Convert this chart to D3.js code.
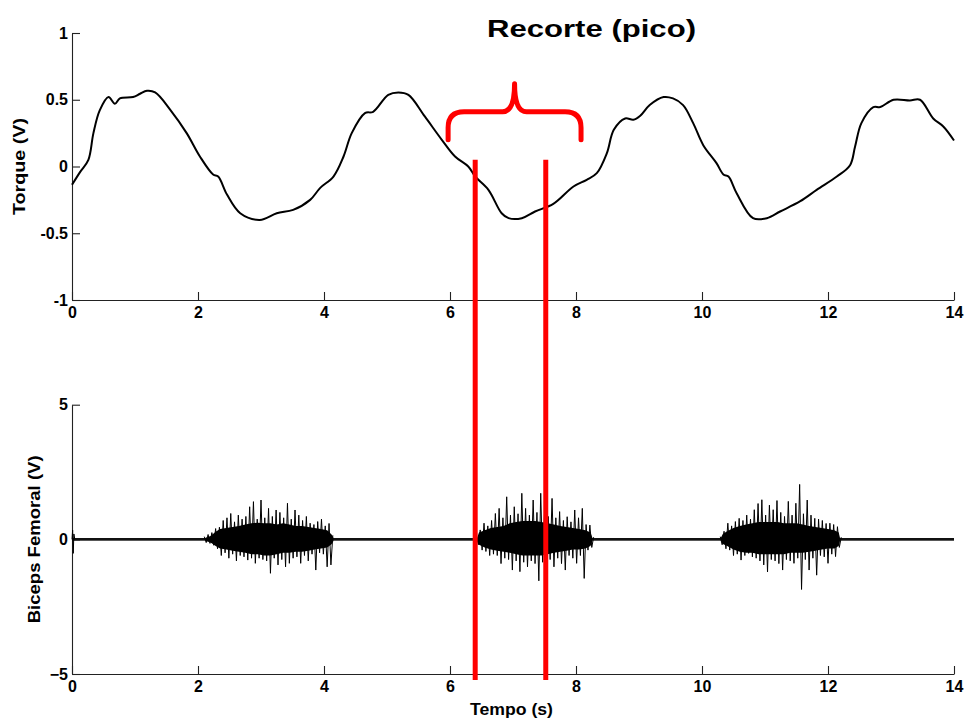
<!DOCTYPE html>
<html>
<head>
<meta charset="utf-8">
<script src="https://cdn.jsdelivr.net/npm/d3@7"></script>
<style>
  body { margin: 0; background: #fff; }
  svg { display: block; }
  text { font-family: "Liberation Sans", Arial, Helvetica, sans-serif; font-weight: bold; fill: #000; }
</style>
</head>
<body>
<svg id="chart" width="966" height="719"></svg>
<script>
// ---- Torque signal (V) over time (s) ----
const torqueT = [0, 0.13, 0.26, 0.34, 0.44, 0.58, 0.68, 0.76, 0.97, 1.08, 1.19, 1.32, 1.56, 1.82, 2.03, 2.24, 2.32, 2.46, 2.67, 2.98, 3.25, 3.51, 3.78, 3.94, 4.15, 4.31, 4.44, 4.65, 4.78, 5.02, 5.18, 5.34, 5.60, 5.87, 6.08, 6.29, 6.40, 6.61, 6.82, 6.93, 7.14, 7.35, 7.64, 7.96, 8.17, 8.33, 8.49, 8.60, 8.78, 8.91, 9.02, 9.17, 9.39, 9.54, 9.70, 9.86, 10.02, 10.23, 10.34, 10.42, 10.55, 10.81, 11.03, 11.24, 11.56, 11.82, 12.14, 12.35, 12.43, 12.53, 12.72, 12.83, 13.04, 13.30, 13.46, 13.67, 13.83, 14.0];
const torqueV = [-0.137, -0.04, 0.05, 0.25, 0.42, 0.52, 0.47, 0.51, 0.52, 0.545, 0.567, 0.555, 0.425, 0.25, 0.075, -0.06, -0.075, -0.21, -0.35, -0.40, -0.35, -0.325, -0.25, -0.16, -0.075, 0.075, 0.25, 0.40, 0.41, 0.537, 0.555, 0.537, 0.375, 0.2, 0.075, 0.0, -0.075, -0.175, -0.35, -0.387, -0.387, -0.337, -0.28, -0.15, -0.10, -0.05, 0.10, 0.275, 0.36, 0.35, 0.38, 0.46, 0.52, 0.51, 0.46, 0.325, 0.16, 0.025, -0.06, -0.075, -0.20, -0.387, -0.387, -0.337, -0.26, -0.175, -0.075, 0.01, 0.15, 0.325, 0.445, 0.445, 0.50, 0.495, 0.50, 0.36, 0.30, 0.195];

// ---- Biceps femoris EMG (V) ----
// resting band (half-width) between contractions
const emgRestBand = 0.05;
// onset artefact at the start of the record
const emgOnsetT = [0.0, 0.01, 0.02, 0.03, 0.045];
const emgOnsetV = [0.0, 0.34, -0.52, 0.2, 0.0];
// dense core of each contraction burst (upper / lower edge)
const emgCoreT  = [2.12, 2.20, 2.28, 2.35, 2.45, 2.55, 2.65, 2.75, 2.85, 2.95, 3.05, 3.15, 3.25, 3.35, 3.45, 3.55, 3.65, 3.75, 3.85, 3.95, 4.05, 4.12, 4.15,
                   6.43, 6.46, 6.55, 6.65, 6.75, 6.85, 6.95, 7.05, 7.15, 7.25, 7.35, 7.45, 7.55, 7.65, 7.75, 7.85, 7.95, 8.05, 8.15, 8.23, 8.26,
                   10.30, 10.33, 10.40, 10.50, 10.60, 10.70, 10.80, 10.90, 11.00, 11.10, 11.20, 11.30, 11.40, 11.50, 11.60, 11.70, 11.80, 11.90, 12.00, 12.10, 12.17, 12.19];
const emgCoreHi = [0.06, 0.12, 0.28, 0.38, 0.42, 0.46, 0.5, 0.55, 0.6, 0.62, 0.6, 0.6, 0.55, 0.6, 0.55, 0.5, 0.5, 0.46, 0.42, 0.38, 0.34, 0.18, 0.06,
                   0.06, 0.25, 0.34, 0.42, 0.46, 0.5, 0.6, 0.64, 0.68, 0.68, 0.68, 0.64, 0.6, 0.55, 0.5, 0.46, 0.42, 0.38, 0.34, 0.25, 0.06,
                   0.06, 0.2, 0.3, 0.42, 0.5, 0.55, 0.6, 0.64, 0.64, 0.64, 0.64, 0.6, 0.6, 0.6, 0.55, 0.5, 0.46, 0.42, 0.38, 0.34, 0.25, 0.06];
const emgCoreLo = [-0.06, -0.12, -0.25, -0.34, -0.38, -0.42, -0.46, -0.5, -0.55, -0.55, -0.6, -0.6, -0.55, -0.5, -0.5, -0.46, -0.46, -0.42, -0.38, -0.34, -0.3, -0.18, -0.06,
                   -0.06, -0.2, -0.3, -0.38, -0.42, -0.46, -0.5, -0.55, -0.6, -0.6, -0.6, -0.6, -0.55, -0.5, -0.46, -0.42, -0.38, -0.38, -0.34, -0.25, -0.06,
                   -0.06, -0.17, -0.25, -0.38, -0.46, -0.5, -0.5, -0.55, -0.55, -0.55, -0.55, -0.55, -0.5, -0.5, -0.5, -0.46, -0.42, -0.38, -0.34, -0.34, -0.25, -0.06];
// contraction bursts: alternating peaks sampled every emgStep seconds
const emgStep = 0.03;
const emgBurstStart = [2.10, 6.42, 10.29];
const emgBurst1 = [0.10, -0.12, 0.18, -0.15, 0.25, -0.22, 0.40, -0.35, 0.45, -0.60, 0.70, -0.50, 0.80, -0.70, 0.96, -0.55, 0.65, -0.80, 0.90, -0.60,
                   0.75, -0.65, 0.85, -0.77, 1.21, -0.70, 1.40, -0.89, 0.75, -0.70, 1.46, -0.75, 0.80, -0.80, 1.15, -1.26, 0.85, -0.70, 1.09, -0.95,
                   1.00, -0.75, 0.80, -1.02, 1.34, -0.89, 0.75, -0.70, 1.09, -0.65, 0.90, -0.89, 0.70, -0.60, 0.85, -0.80, 0.60, -0.55, 0.55, -1.14,
                   0.66, -0.50, 0.75, -0.55, 0.50, -1.02, 0.59, -0.95, 0.15];
const emgBurst2 = [0.10, -0.20, 0.35, -0.40, 0.60, -0.45, 0.50, -0.60, 0.70, -0.55, 0.96, -0.60, 1.15, -0.90, 0.80, -0.70, 1.58, -0.75, 0.90, -1.14,
                   1.21, -0.80, 0.95, -1.20, 1.71, -0.85, 1.15, -1.02, 0.90, -0.80, 1.46, -0.90, 1.00, -1.54, 1.71, -0.85, 0.96, -1.39, 0.85, -0.75,
                   1.52, -1.02, 0.80, -0.70, 1.03, -0.90, 0.70, -1.14, 0.84, -0.60, 0.65, -0.70, 1.09, -0.89, 0.80, -0.60, 1.15, -1.45, 0.55, -0.40,
                   0.53, -0.30, 0.08];
const emgBurst3 = [0.10, -0.20, 0.30, -0.35, 0.60, -0.40, 0.50, -0.60, 0.66, -0.55, 0.78, -0.77, 0.70, -0.60, 0.90, -0.52, 0.75, -0.65, 1.10, -0.70,
                   1.33, -0.80, 1.47, -0.95, 0.90, -1.21, 1.27, -0.75, 1.10, -0.80, 1.44, -0.90, 1.00, -1.14, 0.85, -0.75, 1.41, -0.80, 0.90, -0.89,
                   1.34, -0.70, 2.04, -1.86, 0.95, -0.75, 1.46, -1.14, 0.90, -0.70, 0.78, -1.33, 0.75, -0.60, 0.70, -0.65, 0.59, -0.89, 0.60, -0.55,
                   0.55, -0.64, 0.47, -0.30, 0.08];

// ---- Axis ticks ----
const timeTicks = [0, 2, 4, 6, 8, 10, 12, 14];
const torqueTicks = [-1, -0.5, 0, 0.5, 1];
const emgTicks = [-5, 0, 5];

// ---- Cut window (peak segment) ----
const cutWindow = [6.40, 7.52];
const braceSpan = [5.97, 8.08];

const svg = d3.select("#chart");

const x = d3.scaleLinear().domain([0, 14]).range([72, 954]);
const yTop = d3.scaleLinear().domain([-1, 1]).range([300, 33]);
const yBot = d3.scaleLinear().domain([-5, 5]).range([674, 404.7]);

function drawAxes(yScale, ticks, fmt) {
  const gy = svg.append("g").attr("transform", `translate(${x(0)},0)`)
    .call(d3.axisLeft(yScale).tickValues(ticks).tickSizeInner(-8).tickSizeOuter(0).tickPadding(4).tickFormat(fmt));
  const gx = svg.append("g").attr("transform", `translate(0,${yScale.range()[0]})`)
    .call(d3.axisBottom(x).tickValues(timeTicks).tickSizeInner(-8).tickSizeOuter(0).tickFormat(d3.format("d")));
  [gy, gx].forEach(g => {
    g.selectAll("path.domain").attr("stroke", "#222").attr("stroke-width", 1.1);
    g.selectAll(".tick line").attr("stroke", "#222").attr("stroke-width", 1.1);
    g.selectAll("text").attr("font-size", 16).attr("font-family", null).attr("fill", "#000");
  });
  gx.selectAll("text").attr("y", 18).attr("dy", 0);
}

drawAxes(yTop, torqueTicks, d => String(d));
drawAxes(yBot, emgTicks, d3.format("d"));

// Torque trace
const torqueData = torqueT.map((t, i) => [t, torqueV[i]]);
svg.append("path")
  .datum(torqueData)
  .attr("fill", "none")
  .attr("stroke", "#000")
  .attr("stroke-width", 2)
  .attr("stroke-linejoin", "round")
  .attr("d", d3.line().curve(d3.curveCatmullRom.alpha(0.5)).x(d => x(d[0])).y(d => yTop(d[1])));

// EMG resting band
svg.append("rect")
  .attr("x", x(0)).attr("width", x(14) - x(0))
  .attr("y", yBot(emgRestBand)).attr("height", yBot(-emgRestBand) - yBot(emgRestBand))
  .attr("fill", "#111");

// EMG burst cores
const coreData = emgCoreT.map((t, i) => [t, emgCoreHi[i], emgCoreLo[i]]);
const coreGroups = [coreData.filter(d => d[0] < 5), coreData.filter(d => d[0] > 5 && d[0] < 9), coreData.filter(d => d[0] > 9)];
svg.append("g").selectAll("path").data(coreGroups).join("path")
  .attr("fill", "#000")
  .attr("d", d3.area().x(d => x(d[0])).y0(d => yBot(d[2])).y1(d => yBot(d[1])));

// EMG onset artefact and burst peaks
const emgLine = d3.line().x(d => x(d[0])).y(d => yBot(d[1]));
const emgSeries = [emgOnsetT.map((t, i) => [t, emgOnsetV[i]])];
[emgBurst1, emgBurst2, emgBurst3].forEach((vals, b) => {
  emgSeries.push(vals.map((v, i) => [emgBurstStart[b] + i * emgStep, v]));
});
svg.append("g").selectAll("path").data(emgSeries).join("path")
  .attr("fill", "none")
  .attr("stroke", "#000")
  .attr("stroke-width", 1)
  .attr("stroke-linejoin", "miter")
  .attr("d", emgLine);

// Axis titles
function label(sel, len) {
  return sel.attr("textLength", len).attr("lengthAdjust", "spacingAndGlyphs");
}
label(svg.append("text").attr("transform", `translate(25,${yTop(0)}) rotate(-90)`)
  .attr("text-anchor", "middle").attr("font-size", 16).text("Torque (V)"), 97);
label(svg.append("text").attr("transform", `translate(40,${yBot(0)}) rotate(-90)`)
  .attr("text-anchor", "middle").attr("font-size", 16).text("Biceps Femoral (V)"), 168);
label(svg.append("text").attr("x", 511.5).attr("y", 715)
  .attr("text-anchor", "middle").attr("font-size", 16).text("Tempo (s)"), 83);

// Title
label(svg.append("text").attr("x", 591.5).attr("y", 37)
  .attr("text-anchor", "middle").attr("font-size", 24).text("Recorte (pico)"), 209);

// Cut boundaries
svg.append("g").selectAll("line").data(cutWindow).join("line")
  .attr("x1", d => x(d)).attr("x2", d => x(d))
  .attr("y1", yTop(0.05)).attr("y2", yBot(-5) + 6)
  .attr("stroke", "#ff0000").attr("stroke-width", 5);

// Curly brace above the cut window
const bx0 = x(braceSpan[0]), bx1 = x(braceSpan[1]), bm = (bx0 + bx1) / 2;
const yEnd = yTop(0.2), yMid = yTop(0.41), yTip = yTop(0.62);
const r = 16;
const brace = d3.path();
brace.moveTo(bx0, yEnd);
brace.lineTo(bx0, yMid + r);
brace.quadraticCurveTo(bx0, yMid, bx0 + r, yMid);
brace.lineTo(bm - 12, yMid);
brace.quadraticCurveTo(bm, yMid, bm, yTip);
brace.quadraticCurveTo(bm, yMid, bm + 12, yMid);
brace.lineTo(bx1 - r, yMid);
brace.quadraticCurveTo(bx1, yMid, bx1, yMid + r);
brace.lineTo(bx1, yEnd);
svg.append("path").attr("d", brace.toString())
  .attr("fill", "none").attr("stroke", "#ff0000").attr("stroke-width", 5)
  .attr("stroke-linecap", "round").attr("stroke-linejoin", "round");
</script>
</body>
</html>
